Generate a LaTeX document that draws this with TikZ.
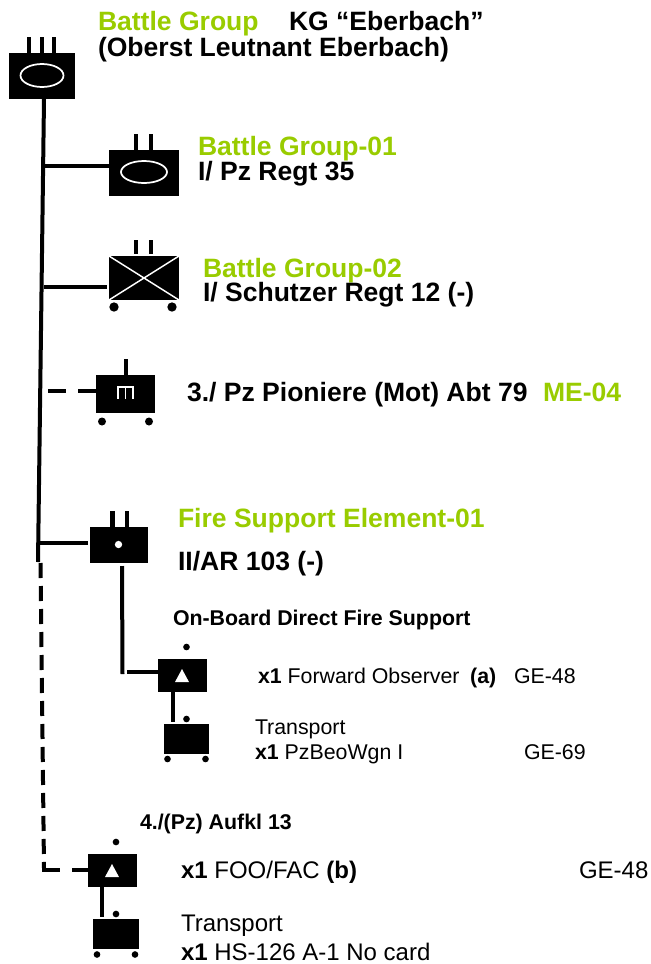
\documentclass[tikz,border=0pt]{standalone}
\usepackage{fontspec}
\setmainfont{Liberation Sans}
\definecolor{grn}{HTML}{99CC00}
\tikzset{
  x=0.75pt,y=-0.75pt,
  unitbox/.style={fill=black,draw=none,inner sep=0pt,outer sep=0pt,rectangle,anchor=north west},
  link/.style={line width=3pt},
  dashlink/.style={line width=3pt,dash pattern=on 13.5pt off 9pt},
  vdash/.style={line width=3pt,dash pattern=on 11.25pt off 6pt},
  thinbar/.style={line width=3.6pt},
  dot/.style={circle,fill=black,inner sep=0pt,outer sep=0pt},
  symw/.style={draw=white,line width=1.3pt},
  lab/.style={anchor=base west,inner sep=0pt,outer sep=0pt},
  big/.style={lab,font=\fontsize{19.9pt}{22pt}\selectfont\bfseries},
  med/.style={lab,font=\fontsize{16pt}{18pt}\selectfont\bfseries},
  sm/.style={lab,font=\fontsize{16pt}{18pt}\selectfont},
  lg/.style={lab,font=\fontsize{18pt}{20pt}\selectfont},
  gb/.style={big,text=grn},
}
\begin{document}
\begin{tikzpicture}
\useasboundingbox (0,0) rectangle (650,964);
% unit boxes
\node[unitbox,minimum width=49.5pt,minimum height=34.5pt] (hq) at (9,53) {};
\node[unitbox,minimum width=52.5pt,minimum height=34.5pt] (bg1) at (109,150) {};
\node[unitbox,minimum width=52.5pt,minimum height=33pt] (bg2) at (109,256) {};
\node[unitbox,minimum width=44.25pt,minimum height=28.5pt] (pio) at (96,375) {};
\node[unitbox,minimum width=43.5pt,minimum height=27pt] (fse) at (90,527) {};
\node[unitbox,minimum width=36.75pt,minimum height=24.75pt] (fo) at (158,659) {};
\node[unitbox,minimum width=33.75pt,minimum height=22.5pt] (tr1) at (164,724) {};
\node[unitbox,minimum width=36.75pt,minimum height=24.75pt] (foo) at (88,854) {};
\node[unitbox,minimum width=34.5pt,minimum height=22.5pt] (tr2) at (93,919) {};
% named coordinates for the lines
\coordinate (mtop) at (44,99);
\coordinate (msplit) at (38,562);
\coordinate (j1) at (43.5,166);
\coordinate (j2) at (44,287);
\coordinate (j2e) at (107,287);
\coordinate (j3) at (48,391);
\coordinate (j4) at (38.5,543);
\coordinate (j4e) at (88,543);
\coordinate (d0) at (40.5,563);
\coordinate (dend) at (44,868);
\coordinate (dh) at (42,870);
\coordinate (fsedn) at (122,566);
\coordinate (fsebt) at (122.5,674);
\coordinate (fsej) at (127,672);
% tree
\draw[link] (mtop) -- (msplit);
\draw[link] (j1) -- (bg1.west |- j1);
\draw[link] (j2) -- (j2e);
\draw[dashlink] (j3) -- (pio.west |- j3);
\draw[link] (j4) -- (j4e);
\draw[link] (fsedn) -- (fsebt);
\draw[link] (fsej) -- (fo.west |- fsej);
\draw[vdash] (d0) -- (dend);
\draw[dashlink] (dh) -- (foo.west |- dh);
\draw[line width=3.4pt] (173,692) -- (173,722);
\draw[line width=3.4pt] (102,887) -- (102,917);
% echelon bars
\foreach \x in {29,42,54} \draw[thinbar] (\x,37) -- (\x,53);
\foreach \x in {136,151} \draw[thinbar] (\x,134) -- (\x,150);
\foreach \x in {136,151} \draw[thinbar] (\x,240) -- (\x,254);
\draw[thinbar] (126,359) -- (126,375);
\foreach \x in {112.5,127} \draw[thinbar] (\x,511) -- (\x,527);
% symbols
\draw[symw] (42,75.5) ellipse [x radius=21.5,y radius=11.5];
\draw[symw] (144,172) ellipse [x radius=23,y radius=11];
\draw[symw,line width=1.1pt] (bg2.north west) -- (bg2.south east) (bg2.south west) -- (bg2.north east);
\draw[draw=white,line width=1.1pt] (117,387) -- (134,387) (118,387) -- (118,398.5) (125.7,387) -- (125.7,398.5) (133,387) -- (133,398.5);
\node[circle,fill=white,minimum width=5.5pt,inner sep=0pt] (fd) at (118.5,544.5) {};
\fill[white] (182,669) -- (175,682) -- (189,682) -- cycle;
\fill[white] (112,864) -- (105,877) -- (119,877) -- cycle;
% dots and wheels
\node[dot,minimum width=7pt] (w1) at (114,307) {};
\node[dot,minimum width=7pt] (w2) at (172,307) {};
\node[dot,minimum width=6pt] (w3) at (102,421.5) {};
\node[dot,minimum width=6pt] (w4) at (149,421.5) {};
\node[dot,minimum width=5pt] (t1) at (186.5,647) {};
\node[dot,minimum width=5pt] (t2) at (186.5,719) {};
\node[dot,minimum width=5pt] (w5) at (167.5,759) {};
\node[dot,minimum width=5pt] (w6) at (205.5,759) {};
\node[dot,minimum width=5pt] (t3) at (116,842) {};
\node[dot,minimum width=5pt] (t4) at (116,914) {};
\node[dot,minimum width=5pt] (w7) at (97,954.5) {};
\node[dot,minimum width=5pt] (w8) at (135,954.5) {};
% texts
\node[gb] (a1) at (98,30) {Battle Group};
\node[big] (a2) at (289,30) {KG “Eberbach”};
\node[big] (a3) at (98,56) {(Oberst Leutnant Eberbach)};
\node[gb] (b1) at (198,155) {Battle Group-01};
\node[big] (b2) at (198,180) {I/ Pz Regt 35};
\node[gb] (c1) at (203,277) {Battle Group-02};
\node[big] (c2) at (203,301) {I/ Schutzer Regt 12 (-)};
\node[big] (d1) at (187,401) {3./ Pz Pioniere (Mot) Abt 79};
\node[gb] (d2) at (543,401) {ME-04};
\node[gb] (e1) at (178,527) {Fire Support Element-01};
\node[big] (e2) at (178,570) {II/AR 103 (-)};
\node[med] (f1) at (173,625) {On-Board Direct Fire Support};
\node[sm] (g1) at (258,683) {\textbf{x1} Forward Observer\hspace{8pt}\textbf{(a)}};
\node[sm] (g2) at (514,683) {GE-48};
\node[sm] (h1) at (255,734) {Transport};
\node[sm] (h2) at (255,759) {\textbf{x1} PzBeoWgn I};
\node[sm] (h3) at (524,759) {GE-69};
\node[med] (i1) at (140,829) {4./(Pz) Aufkl 13};
\node[lg] (j1t) at (181,878) {\textbf{x1} FOO/FAC \textbf{(b)}};
\node[lg] (j2t) at (579,878) {GE-48};
\node[lg] (k1) at (181,931) {Transport};
\node[lg] (k2) at (181,960) {\textbf{x1} HS-126 A-1 No card};
\end{tikzpicture}
\end{document}
